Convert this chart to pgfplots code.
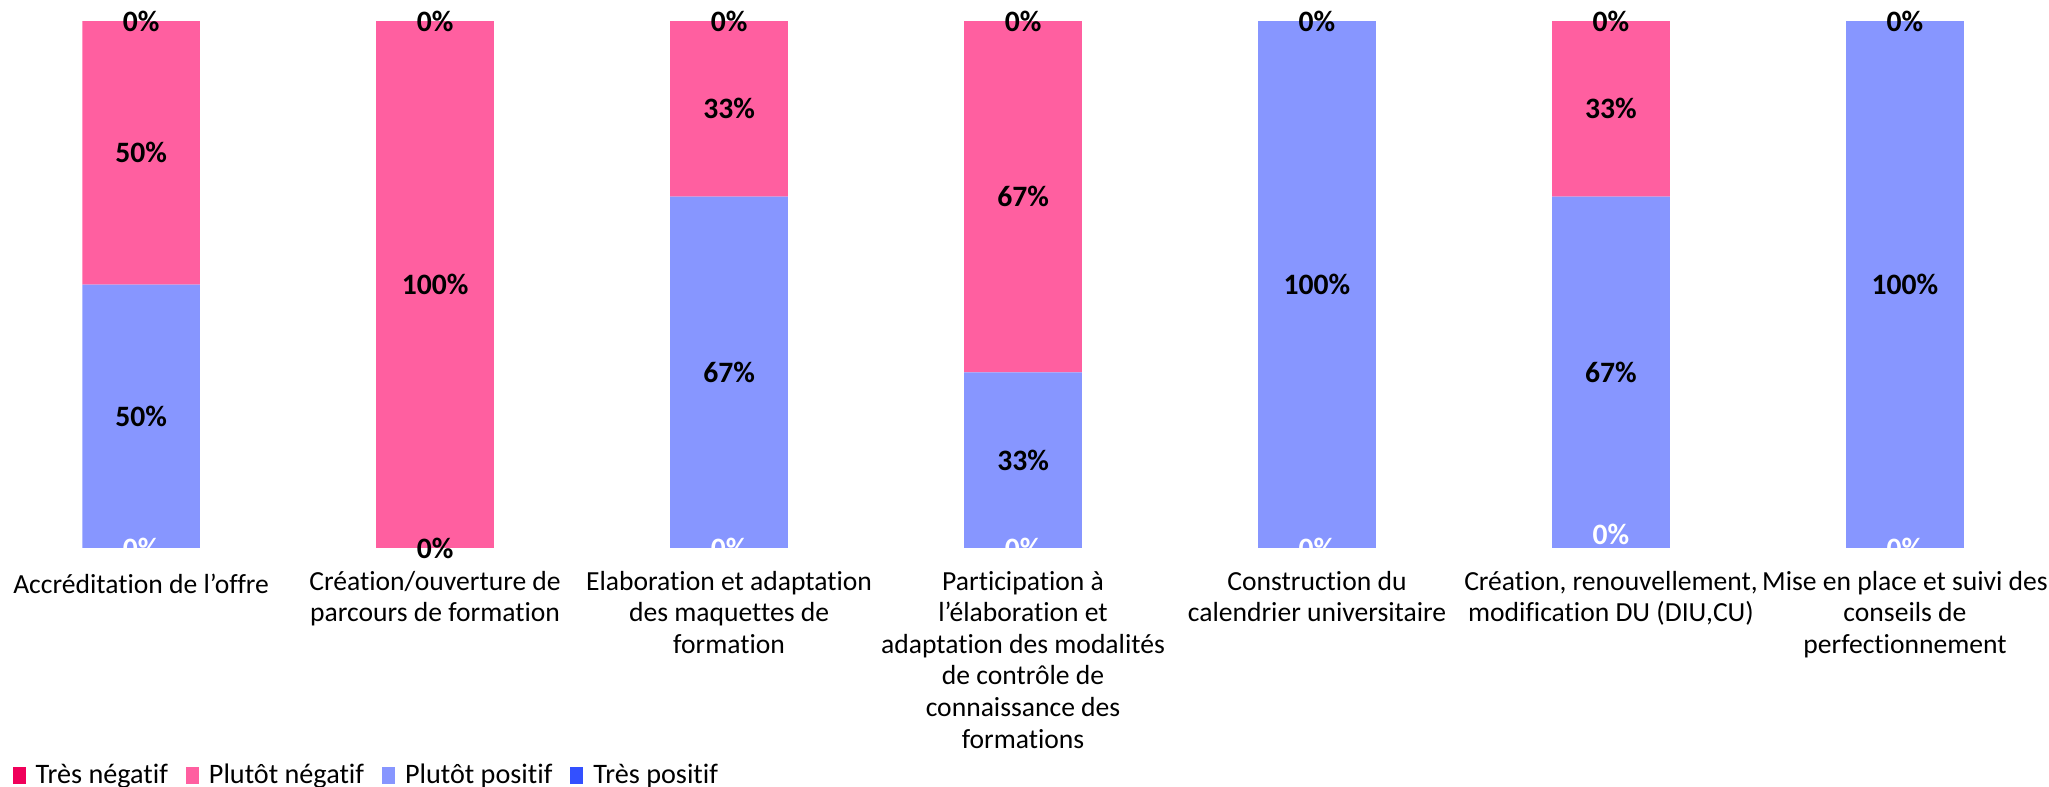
\documentclass[border=0pt]{standalone}
\usepackage{pgfplots}
\pgfplotsset{compat=1.18}
\usepackage{fontspec}
\setmainfont{Carlito}[Ligatures=NoCommon]
\definecolor{tresneg}{HTML}{F0005A}
\definecolor{plutneg}{HTML}{FF5FA0}
\definecolor{plutpos}{HTML}{8796FF}
\definecolor{trespos}{HTML}{3350FF}
\newcommand{\lblfont}{\fontsize{13.8}{15.8}\selectfont}
\newcommand{\legfont}{\fontsize{14.1}{16}\selectfont}
\newcommand{\datfont}{\fontsize{14.8}{16}\selectfont\bfseries}
\begin{document}
\begin{tikzpicture}
\pgfplotsset{
  base/.style={
    scale only axis, width=1024.5pt, height=274pt,
    xmin=-0.48, xmax=6.49, ymin=0, ymax=1.04,
  }
}
\begin{axis}[
  base,
  ybar stacked, bar width=58.85pt,
  axis line style={draw=none},
  ytick=\empty,
  xtick={0,...,6},
  major tick length=0pt,
  xticklabels={
    {Accréditation de l’offre},
    {Création/ouverture de\\parcours de formation},
    {Elaboration et adaptation\\des maquettes de\\formation},
    {Participation à\\l’élaboration et\\adaptation des modalités\\de contrôle de\\connaissance des\\formations},
    {Construction du\\calendrier universitaire},
    {Création, renouvellement,\\modification DU (DIU,CU)},
    {Mise en place et suivi des\\conseils de\\perfectionnement}
  },
  xticklabel style={align=center, font=\lblfont, anchor=north, inner sep=0pt, yshift=-11.4pt, execute at begin node=\strut, text=black},
  reverse legend,
  legend columns=4,
  legend style={at={(axis description cs:0.006,-0.436)}, anchor=south west, draw=none, fill=none, inner sep=0pt, font=\legfont,
    nodes={inner sep=0pt},
    /tikz/every odd column/.append style={column sep=5pt},
    /tikz/every even column/.append style={column sep=9pt}},
  legend image code/.code={\path[#1, draw=none] (0pt,-4.25pt) rectangle (6.5pt,4.25pt);},
]
\addplot[fill=trespos, draw=none] coordinates {(0,0) (1,0) (2,0) (3,0) (4,0) (5,0) (6,0)};
\addplot[fill=plutpos, draw=none] coordinates {(0,0.5) (1,0) (2,0.6667) (3,0.3333) (4,1) (5,0.6667) (6,1)};
\addplot[fill=plutneg, draw=none] coordinates {(0,0.5) (1,1) (2,0.3333) (3,0.6667) (4,0) (5,0.3333) (6,0)};
\addplot[fill=tresneg, draw=none] coordinates {(0,0) (1,0) (2,0) (3,0) (4,0) (5,0) (6,0)};
\legend{Très positif, Plutôt positif, Plutôt négatif, Très négatif}
\end{axis}
\begin{axis}[
  base, hide axis, clip=false,
  point meta=explicit symbolic,
  nodes near coords={\pgfplotspointmeta\%},
  nodes near coords align=center,
  every node near coord/.append style={font=\datfont, anchor=center, inner sep=0pt},
]
\addplot[draw=none, mark=none, every node near coord/.append style={text=white}] coordinates {
  (0,0) [0] (2,0) [0] (3,0) [0] (4,0) [0] (5,0.025) [0] (6,0) [0]
};
\addplot[draw=none, mark=none, every node near coord/.append style={text=black}] coordinates {
  (0,0.25) [50] (0,0.75) [50] (0,1) [0]
  (1,0) [0] (1,0.5) [100] (1,1) [0]
  (2,0.3333) [67] (2,0.8333) [33] (2,1) [0]
  (3,0.1667) [33] (3,0.6667) [67] (3,1) [0]
  (4,0.5) [100] (4,1) [0]
  (5,0.3333) [67] (5,0.8333) [33] (5,1) [0]
  (6,0.5) [100] (6,1) [0]
};
\end{axis}
\pgfresetboundingbox
\path[use as bounding box] (current axis.north west) rectangle ([yshift=-393.5pt]current axis.north east);
\end{tikzpicture}
\end{document}
